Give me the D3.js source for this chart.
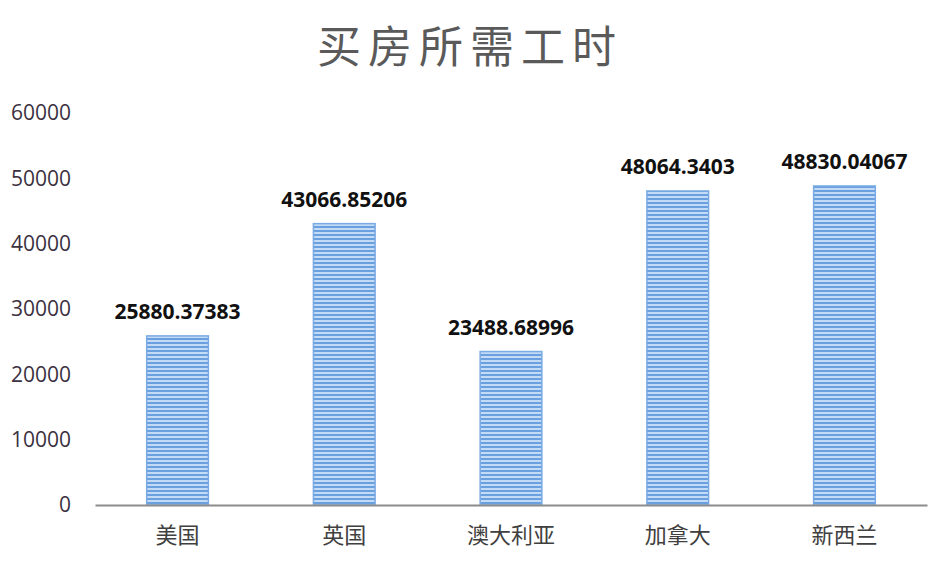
<html>
<head>
<meta charset="utf-8">
<style>
  body { margin: 0; background: #fff; }
  text { font-family: 'Open Sans', 'Noto Sans CJK SC', sans-serif; }
</style>
</head>
<body>
  <div id="chart"></div>
  <script src="https://cdn.jsdelivr.net/npm/d3@7"></script>
  <script>
    // data
    var countries = ['美国', '英国', '澳大利亚', '加拿大', '新西兰'];
    var hours = [25880.37383, 43066.85206, 23488.68996, 48064.3403, 48830.04067];
    var hourLabels = ['25880.37383', '43066.85206', '23488.68996', '48064.3403', '48830.04067'];
    var yTicks = [0, 10000, 20000, 30000, 40000, 50000, 60000];

    var width = 940, height = 572;
    var svg = d3.select('#chart').append('svg')
      .attr('width', width)
      .attr('height', height);

    // striped fill like the original bars
    var defs = svg.append('defs');
    var pat = defs.append('pattern')
      .attr('id', 'stripes')
      .attr('patternUnits', 'userSpaceOnUse')
      .attr('width', 8).attr('height', 4);
    pat.append('rect').attr('width', 8).attr('height', 4).attr('fill', '#c4dbf6');
    pat.append('rect').attr('y', 2).attr('width', 8).attr('height', 2).attr('fill', '#6a9fe0');

    var x = d3.scaleBand()
      .domain(countries)
      .range([95, 927])
      .paddingInner(0.63)
      .paddingOuter(0.31);

    var y = d3.scaleLinear()
      .domain([0, 60000])
      .range([505, 113]);

    // title
    svg.append('text')
      .attr('x', 470).attr('y', 63)
      .attr('text-anchor', 'middle')
      .attr('font-size', 44)
      .attr('fill', '#5a5a5a')
      .style('font-family', "'Noto Sans CJK SC', sans-serif")
      .style('letter-spacing', '7px')
      .text('买房所需工时');

    // y axis labels
    var yAxis = d3.axisLeft(y).tickValues(yTicks).tickSize(0).tickPadding(0)
      .tickFormat(d3.format('d'));
    var gy = svg.append('g').attr('transform', 'translate(71,0)').call(yAxis);
    gy.select('.domain').remove();
    gy.selectAll('text')
      .attr('font-size', 21)
      .attr('fill', '#3b3140')
      .style('font-family', "'Open Sans', sans-serif");

    // bars
    svg.selectAll('rect.bar')
      .data(hours)
      .enter()
      .append('rect')
      .attr('class', 'bar')
      .attr('x', function(d, i){ return x(countries[i]); })
      .attr('y', function(d){ return y(d); })
      .attr('width', x.bandwidth())
      .attr('height', function(d){ return y(0) - y(d); })
      .attr('fill', 'url(#stripes)')
      .attr('stroke', '#7aaae3')
      .attr('stroke-width', 1.5);

    // value labels
    svg.selectAll('text.val')
      .data(hours)
      .enter()
      .append('text')
      .attr('class', 'val')
      .attr('x', function(d, i){ return x(countries[i]) + x.bandwidth() / 2; })
      .attr('y', function(d){ return y(d) - 17; })
      .attr('text-anchor', 'middle')
      .attr('font-size', 21)
      .attr('font-weight', 'bold')
      .attr('fill', '#111')
      .style('font-family', "'Open Sans', sans-serif")
      .text(function(d, i){ return hourLabels[i]; });

    // x axis
    var xAxis = d3.axisBottom(x).tickSize(0).tickPadding(22);
    var gx = svg.append('g').attr('transform', 'translate(0,' + y(0) + ')').call(xAxis);
    gx.select('.domain').attr('stroke', '#8c8c8c').attr('stroke-width', 2);
    gx.selectAll('text')
      .attr('font-size', 22)
      .attr('fill', '#404040')
      .style('font-family', "'Noto Sans CJK SC', sans-serif");
  </script>
</body>
</html>
